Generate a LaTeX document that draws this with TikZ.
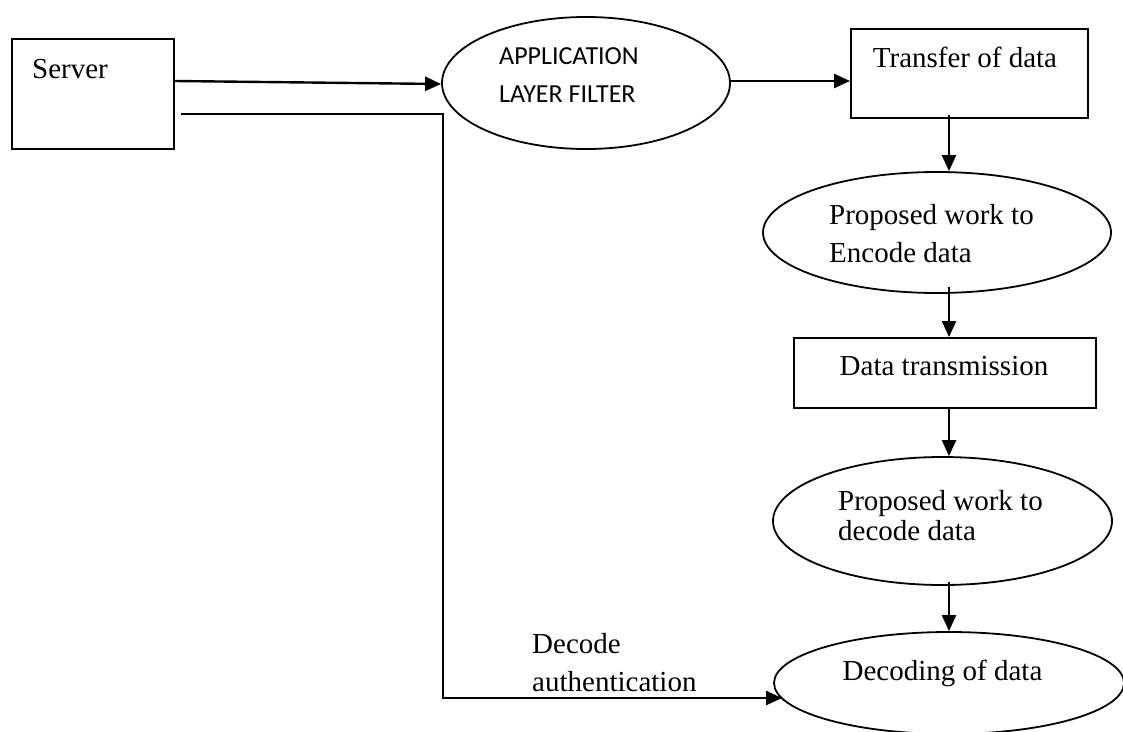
\documentclass[tikz,border=0pt]{standalone}
\usepackage{fontspec}
\setmainfont{Liberation Serif}
\newfontfamily\calibrifont{Carlito}
\usetikzlibrary{shapes.geometric,arrows.meta,calc}
\tikzset{
  boxs/.style={draw, line width=2pt, rectangle, inner sep=0pt},
  ell/.style={draw, line width=1.8pt, ellipse, inner sep=0pt},
  txt/.style={inner sep=0pt, font=\fontsize{29}{35}\selectfont},
  sanstxt/.style={inner sep=0pt, font=\calibrifont\fontsize{26}{32}\selectfont},
  arr/.style={line width=2.4pt, -{Triangle[length=16pt,width=14pt]}}
}
\begin{document}
\begin{tikzpicture}[x=1pt,y=-1pt]
\useasboundingbox (0,0) rectangle (1123,731);
% nodes
\node[boxs, minimum width=162pt, minimum height=110pt] (srv) at (93,94) {};
\node[txt, anchor=base west] (srvt) at (32,78) {Server};
\node[ell, minimum width=288pt, minimum height=132pt] (app) at (586,83) {};
\node[sanstxt, anchor=base west] (appt1) at (499,64) {APPLICATION};
\node[sanstxt, anchor=base west] (appt2) at (499,102) {LAYER FILTER};
\node[boxs, minimum width=237pt, minimum height=89pt] (tr) at (969.5,73.5) {};
\node[txt, anchor=base] (trt) at (965,67) {Transfer of data};
\node[ell, minimum width=348pt, minimum height=121pt] (enc) at (937,232.5) {};
\node[txt, anchor=base west] (enct1) at (829,224) {Proposed work to};
\node[txt, anchor=base west] (enct2) at (829,262) {Encode data};
\node[boxs, minimum width=302pt, minimum height=70pt] (dt) at (945,373) {};
\node[txt, anchor=base] (dtt) at (944,375) {Data transmission};
\node[ell, minimum width=339pt, minimum height=128pt] (dec) at (942.5,521) {};
\node[txt, anchor=base west] (dect1) at (838,510) {Proposed work to};
\node[txt, anchor=base west] (dect2) at (838,540) {decode data};
\node[ell, minimum width=350pt, minimum height=102pt] (dcd) at (949,683) {};
\node[txt, anchor=base] (dcdt) at (942.5,680) {Decoding of data};
\node[txt, anchor=base west] (lab1) at (532,653) {Decode};
\node[txt, anchor=base west] (lab2) at (532,691) {authentication};
% helper coordinates
\coordinate (col) at (949,0);
\coordinate (s2) at (181,114);
\coordinate (bx) at (443,0);
\coordinate (s1) at ($(srv.east)+(0,-13)$);
\coordinate (ae) at ($(app.east)+(0,-2)$);
\coordinate (dcdin) at ($(dcd.center)+(-167,15)$);
% connectors
\draw[arr] (s1) -- ($(app.west)+(0,1)$);
\draw[arr] (ae) -- (ae -| tr.west);
\draw[arr] ($(tr.south -| col)+(0,-4)$) -- (enc.north -| col);
\draw[arr] ($(enc.south -| col)+(0,-7)$) -- (dt.north -| col);
\draw[arr] (dt.south -| col) -- (dec.north -| col);
\draw[arr] ($(dec.south -| col)+(0,-4)$) -- (dcd.north -| col);
\draw[arr] (s2) -| (bx |- dcdin) -- (dcdin);
\end{tikzpicture}
\end{document}
